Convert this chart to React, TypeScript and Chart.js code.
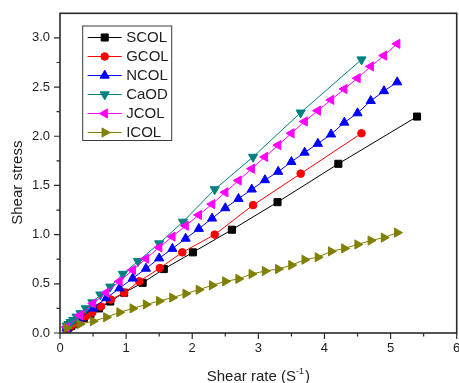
import React, { useEffect, useRef } from "react";
import { Chart, registerables } from "chart.js";
import { drawPoint } from "chart.js/helpers";

Chart.register(...registerables);

// ---------- data ----------
const seriesNames = ["SCOL", "GCOL", "NCOL", "CaOD", "JCOL", "ICOL"];

const scolX = [0.10, 0.13, 0.17, 0.22, 0.28, 0.36, 0.46, 0.59, 0.76, 0.97, 1.25, 1.57, 2.01, 2.60, 3.29, 4.21, 5.40];
const scolY = [0.04, 0.055, 0.07, 0.09, 0.12, 0.15, 0.19, 0.25, 0.32, 0.41, 0.51, 0.65, 0.82, 1.05, 1.33, 1.72, 2.20];

const gcolX = [0.10, 0.13, 0.16, 0.20, 0.25, 0.31, 0.39, 0.49, 0.62, 0.77, 0.97, 1.20, 1.51, 1.85, 2.34, 2.92, 3.64, 4.56];
const gcolY = [0.045, 0.06, 0.07, 0.09, 0.11, 0.135, 0.17, 0.21, 0.27, 0.34, 0.41, 0.525, 0.66, 0.82, 1.00, 1.30, 1.62, 2.03];

const caodX = [0.10, 0.13, 0.16, 0.20, 0.25, 0.31, 0.39, 0.49, 0.61, 0.76, 0.95, 1.18, 1.50, 1.86, 2.34, 2.92, 3.64, 4.56];
const caodY = [0.075, 0.09, 0.11, 0.13, 0.165, 0.20, 0.25, 0.31, 0.39, 0.47, 0.60, 0.73, 0.91, 1.13, 1.46, 1.79, 2.24, 2.78];

const rateX = [0.1, 0.3, 0.5, 0.7, 0.9, 1.1, 1.3, 1.5, 1.7, 1.9, 2.1, 2.3, 2.5, 2.7, 2.9, 3.1, 3.3, 3.5, 3.7, 3.9, 4.1, 4.3, 4.5, 4.7, 4.9, 5.1];
const ncolY = [0.05, 0.15, 0.25, 0.355, 0.455, 0.555, 0.655, 0.76, 0.857, 0.96, 1.06, 1.165, 1.27, 1.365, 1.46, 1.555, 1.64, 1.74, 1.835, 1.925, 2.02, 2.14, 2.235, 2.36, 2.46, 2.55];
const jcolY = [0.06, 0.18, 0.30, 0.41, 0.525, 0.64, 0.755, 0.87, 0.98, 1.09, 1.20, 1.31, 1.43, 1.55, 1.67, 1.79, 1.91, 2.03, 2.15, 2.26, 2.37, 2.48, 2.59, 2.71, 2.82, 2.94];
const icolY = [0.05, 0.09, 0.12, 0.16, 0.21, 0.25, 0.29, 0.325, 0.36, 0.40, 0.44, 0.485, 0.525, 0.55, 0.60, 0.63, 0.65, 0.69, 0.745, 0.77, 0.83, 0.86, 0.90, 0.94, 0.97, 1.02];

const xMajorTicks = [0, 1, 2, 3, 4, 5, 6];
const xMinorTicks = [0.5, 1.5, 2.5, 3.5, 4.5, 5.5];
const yMajorTicks = [0, 0.5, 1.0, 1.5, 2.0, 2.5, 3.0];
const yMinorTicks = [0.25, 0.75, 1.25, 1.75, 2.25, 2.75];

const xTitle = "Shear rate (S";
const xTitleSup = "-1";
const yTitle = "Shear stress";

// ---------- styles ----------
const FONT = "'Liberation Sans', Arial, Helvetica, sans-serif";
const TEXT = "#1e1e1e";
const AXIS = "#2a2a2a";

const styles = [
  { line: "#000000", fill: "#000000", pointStyle: "rect", radius: 5, rotation: 0 },
  { line: "#ff0000", fill: "#ff0000", pointStyle: "circle", radius: 3.8, rotation: 0 },
  { line: "#0000ff", fill: "#0000ff", pointStyle: "triangle", radius: 5.3, rotation: 0 },
  { line: "#008080", fill: "#008080", pointStyle: "triangle", radius: 5.3, rotation: 180 },
  { line: "#ff00ff", fill: "#ff00ff", pointStyle: "triangle", radius: 5.3, rotation: 270 },
  { line: "#808000", fill: "#808000", pointStyle: "triangle", radius: 5.3, rotation: 90 },
];

const zip = (xs: number[], ys: number[]) => xs.map((x, i) => ({ x, y: ys[i] }));

const seriesData = [
  zip(scolX, scolY),
  zip(gcolX, gcolY),
  zip(rateX, ncolY),
  zip(caodX, caodY),
  zip(rateX, jcolY),
  zip(rateX, icolY),
];

const framePlugin = {
  id: "framePlugin",
  afterDatasetsDraw(chart: any) {
    const { ctx, chartArea: a } = chart;
    const xs = chart.scales.x;
    const ys = chart.scales.y;
    ctx.save();
    // frame
    ctx.strokeStyle = AXIS;
    ctx.lineWidth = 1.6;
    ctx.strokeRect(a.left, a.top, a.right - a.left, a.bottom - a.top);
    // ticks
    ctx.lineWidth = 1.2;
    ctx.beginPath();
    xMajorTicks.forEach((v) => {
      const p = xs.getPixelForValue(v);
      ctx.moveTo(p, a.bottom);
      ctx.lineTo(p, a.bottom + 6);
    });
    xMinorTicks.forEach((v) => {
      const p = xs.getPixelForValue(v);
      ctx.moveTo(p, a.bottom);
      ctx.lineTo(p, a.bottom + 3.5);
    });
    yMajorTicks.forEach((v) => {
      const p = ys.getPixelForValue(v);
      ctx.moveTo(a.left, p);
      ctx.lineTo(a.left - 6, p);
    });
    yMinorTicks.forEach((v) => {
      const p = ys.getPixelForValue(v);
      ctx.moveTo(a.left, p);
      ctx.lineTo(a.left - 3.5, p);
    });
    ctx.stroke();

    // axis titles
    ctx.fillStyle = TEXT;
    ctx.font = `15px ${FONT}`;
    const cx = (a.left + a.right) / 2;
    const mainW = ctx.measureText(xTitle).width;
    ctx.font = `9px ${FONT}`;
    const supW = ctx.measureText(xTitleSup).width;
    ctx.font = `15px ${FONT}`;
    const closeW = ctx.measureText(")").width;
    const total = mainW + supW + closeW + 1;
    let tx = cx - total / 2;
    const base = a.bottom + 47.5;
    ctx.textAlign = "left";
    ctx.textBaseline = "alphabetic";
    ctx.fillText(xTitle, tx, base);
    tx += mainW;
    ctx.font = `9px ${FONT}`;
    ctx.fillText(xTitleSup, tx, base - 7);
    tx += supW + 1;
    ctx.font = `15px ${FONT}`;
    ctx.fillText(")", tx, base);

    ctx.save();
    ctx.translate(a.left - 38.5, (a.top + a.bottom) / 2 + 9.5);
    ctx.rotate(-Math.PI / 2);
    ctx.textAlign = "center";
    ctx.textBaseline = "alphabetic";
    ctx.fillText(yTitle, 0, 0);
    ctx.restore();

    // legend
    const bx = a.left + 22.7;
    const by = a.top + 12.7;
    const bw = 89;
    const bh = 114.5;
    ctx.fillStyle = "#ffffff";
    ctx.fillRect(bx, by, bw, bh);
    ctx.strokeStyle = "#3a3a3a";
    ctx.lineWidth = 1;
    ctx.strokeRect(bx, by, bw, bh);
    seriesNames.forEach((name, i) => {
      const st = styles[i];
      const yy = by + 11.5 + i * 19;
      ctx.strokeStyle = st.line;
      ctx.lineWidth = 1;
      ctx.beginPath();
      ctx.moveTo(bx + 5, yy);
      ctx.lineTo(bx + 39, yy);
      ctx.stroke();
      ctx.fillStyle = st.fill;
      ctx.strokeStyle = st.fill;
      drawPoint(ctx, { pointStyle: st.pointStyle, radius: st.radius, rotation: st.rotation, borderWidth: 1 }, bx + 22, yy);
      ctx.fillStyle = TEXT;
      ctx.font = `15px ${FONT}`;
      ctx.textAlign = "left";
      ctx.textBaseline = "middle";
      ctx.fillText(name, bx + 43.5, yy + 0.5);
    });
    ctx.restore();
  },
};

export default function App() {
  const ref = useRef<HTMLCanvasElement | null>(null);
  useEffect(() => {
    if (!ref.current) return;
    const chart = new Chart(ref.current, {
      type: "line",
      data: {
        datasets: seriesNames.map((name, i) => ({
          label: name,
          data: seriesData[i],
          borderColor: styles[i].line,
          backgroundColor: styles[i].fill,
          borderWidth: 1,
          pointStyle: styles[i].pointStyle as any,
          pointRadius: styles[i].radius,
          pointRotation: styles[i].rotation,
          pointBackgroundColor: styles[i].fill,
          pointBorderColor: styles[i].fill,
          pointBorderWidth: 1,
          tension: 0,
          fill: false,
          order: seriesNames.length - i,
        })),
      },
      options: {
        animation: false,
        responsive: false,
        parsing: true,
        layout: { autoPadding: false, padding: { left: 0, right: 2.3, top: 13.3, bottom: 0 } },
        plugins: { legend: { display: false }, tooltip: { enabled: false } },
        scales: {
          x: {
            type: "linear",
            min: 0,
            max: 6,
            afterBuildTicks: (s: any) => {
              s.ticks = xMajorTicks.map((v) => ({ value: v }));
            },
            afterFit: (s: any) => {
              s.height = 50;
              s.paddingLeft = 0;
              s.paddingRight = 0;
            },
            grid: { display: true, color: "rgba(0,0,0,0)", drawOnChartArea: false, drawTicks: true, tickLength: 6 },
            border: { display: false },
            ticks: {
              color: TEXT,
              font: { family: FONT, size: 13 },
              padding: 2,
              maxRotation: 0,
              callback: (v: any) => String(v),
            },
          },
          y: {
            type: "linear",
            min: 0,
            max: 3.25,
            afterBuildTicks: (s: any) => {
              s.ticks = yMajorTicks.map((v) => ({ value: v }));
            },
            afterFit: (s: any) => {
              s.width = 60;
            },
            grid: { display: true, color: "rgba(0,0,0,0)", drawOnChartArea: false, drawTicks: true, tickLength: 6 },
            border: { display: false },
            ticks: {
              color: TEXT,
              font: { family: FONT, size: 13 },
              padding: 4,
              callback: (v: any) => Number(v).toFixed(1),
            },
          },
        },
      },
      plugins: [framePlugin],
    });
    return () => chart.destroy();
  }, []);
  return (
    <canvas
      ref={ref}
      width={459}
      height={383}
      style={{ position: "fixed", left: 0, top: 0, width: 459, height: 383, background: "#ffffff" }}
    />
  );
}
